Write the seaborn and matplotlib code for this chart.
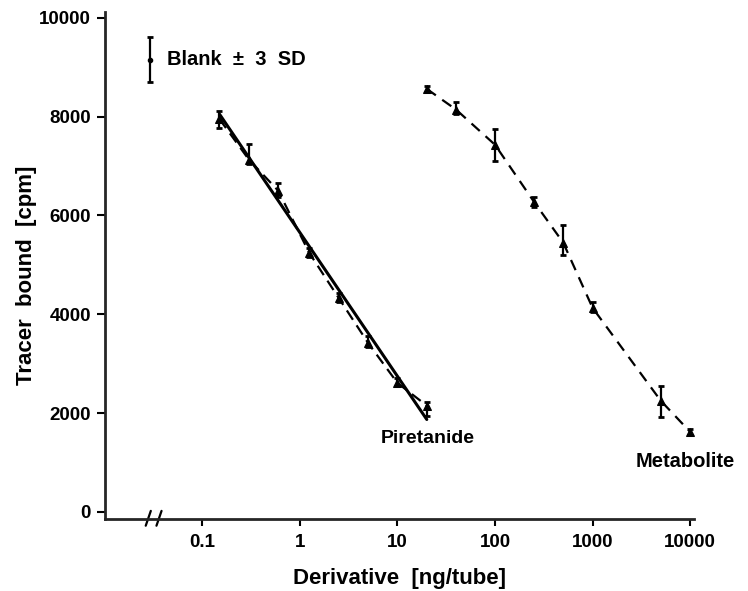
import numpy as np
import pandas as pd
import seaborn as sns
import matplotlib.pyplot as plt

# Piretanide standard curve (ng/tube vs cpm)
pir_x = [0.15, 0.3, 0.6, 1.25, 2.5, 5, 10, 20]
pir_y = [7950, 7130, 6500, 5240, 4330, 3420, 2610, 2150]
pir_lo = [7770, 7050, 6380, 5150, 4250, 3330, 2550, 1950]
pir_hi = [8120, 7450, 6660, 5350, 4420, 3550, 2700, 2230]

# regression line for piretanide
fit_x = [0.15, 20]
fit_y = [8050, 1870]

# Metabolite curve
met_x = [20, 40, 100, 250, 500, 1000, 5000, 10000]
met_y = [8560, 8140, 7430, 6280, 5450, 4130, 2250, 1620]
met_lo = [8500, 8050, 7100, 6180, 5200, 4050, 1920, 1560]
met_hi = [8620, 8300, 7750, 6380, 5810, 4250, 2550, 1680]

# Blank +- 3 SD
blank_x = 0.029
blank_y = 9150
blank_lo = 8700
blank_hi = 9620

xticks = [0.1, 1, 10, 100, 1000, 10000]
xticklabels = ['0.1', '1', '10', '100', '1000', '10000']
yticks = [0, 2000, 4000, 6000, 8000, 10000]

sns.set_style("ticks")
plt.rcParams['font.family'] = ['Liberation Sans', 'DejaVu Sans']
plt.rcParams['font.weight'] = 'bold'
plt.rcParams['text.color'] = 'black'
plt.rcParams['axes.labelcolor'] = 'black'
plt.rcParams['xtick.color'] = 'black'
plt.rcParams['ytick.color'] = 'black'

fig = plt.figure(figsize=(7.48, 5.91), dpi=100)
ax = fig.add_axes([0.140, 0.122, 0.788, 0.858])

pir = pd.DataFrame({'x': pir_x, 'y': pir_y})
met = pd.DataFrame({'x': met_x, 'y': met_y})
fit = pd.DataFrame({'x': fit_x, 'y': fit_y})

sns.lineplot(data=fit, x='x', y='y', ax=ax, color='black', lw=2.2)
sns.lineplot(data=pir, x='x', y='y', ax=ax, color='black', lw=1.6,
             marker='^', markersize=6, markeredgecolor='black',
             linestyle=(0, (5, 3)))
sns.lineplot(data=met, x='x', y='y', ax=ax, color='black', lw=1.6,
             marker='^', markersize=6, markeredgecolor='black',
             linestyle=(0, (5, 3.5)))

for xs, ys, lo, hi in [(pir_x, pir_y, pir_lo, pir_hi), (met_x, met_y, met_lo, met_hi),
                       ([blank_x], [blank_y], [blank_lo], [blank_hi])]:
    ys = np.array(ys)
    err = [ys - np.array(lo), np.array(hi) - ys]
    ax.errorbar(xs, ys, yerr=err, fmt='none', ecolor='black', elinewidth=1.6,
                capsize=2.5, capthick=2)
ax.plot([blank_x], [blank_y], 'o', color='black', ms=3)

ax.text(0.043, blank_y, 'Blank  \u00b1  3  SD', fontsize=14.5, fontweight='bold',
        va='center', ha='left')
ax.text(20.5, 1480, 'Piretanide', fontsize=14, fontweight='bold', ha='center', va='center')
ax.text(9000, 1010, 'Metabolite', fontsize=14.5, fontweight='bold', ha='center', va='center')

ax.set_xscale('log')
ax.set_xlim(0.01, 11000)
ax.set_ylim(-142, 10120)
ax.set_xticks(xticks)
ax.set_xticklabels(xticklabels)
ax.xaxis.set_minor_locator(plt.NullLocator())
ax.set_yticks(yticks)
ax.set_yticklabels([str(v) for v in yticks])
ax.tick_params(axis='both', labelsize=13.5, width=1.5, color='black', labelcolor='black')
ax.tick_params(axis='x', length=5, pad=6)
ax.tick_params(axis='y', length=6, pad=4)
for lab in ax.get_xticklabels() + ax.get_yticklabels():
    lab.set_fontweight('bold')

sns.despine(ax=ax)
ax.spines['left'].set_linewidth(2)
ax.spines['bottom'].set_linewidth(2)

ax.set_xlabel('Derivative  [ng/tube]', fontsize=16, fontweight='bold', labelpad=12)
ax.set_ylabel('Tracer  bound  [cpm]', fontsize=16, fontweight='bold', labelpad=8)
ax.yaxis.set_label_coords(-0.115, 0.48)

# axis break marks on the x axis
brk = 0.028
for dx in [0.0, 0.11]:
    xb = brk * 10 ** dx
    ax.plot([xb * 0.94, xb * 1.06], [-280, 20], color='black', lw=1.6,
            clip_on=False, transform=ax.transData)

fig.savefig('out.png', dpi=100)
